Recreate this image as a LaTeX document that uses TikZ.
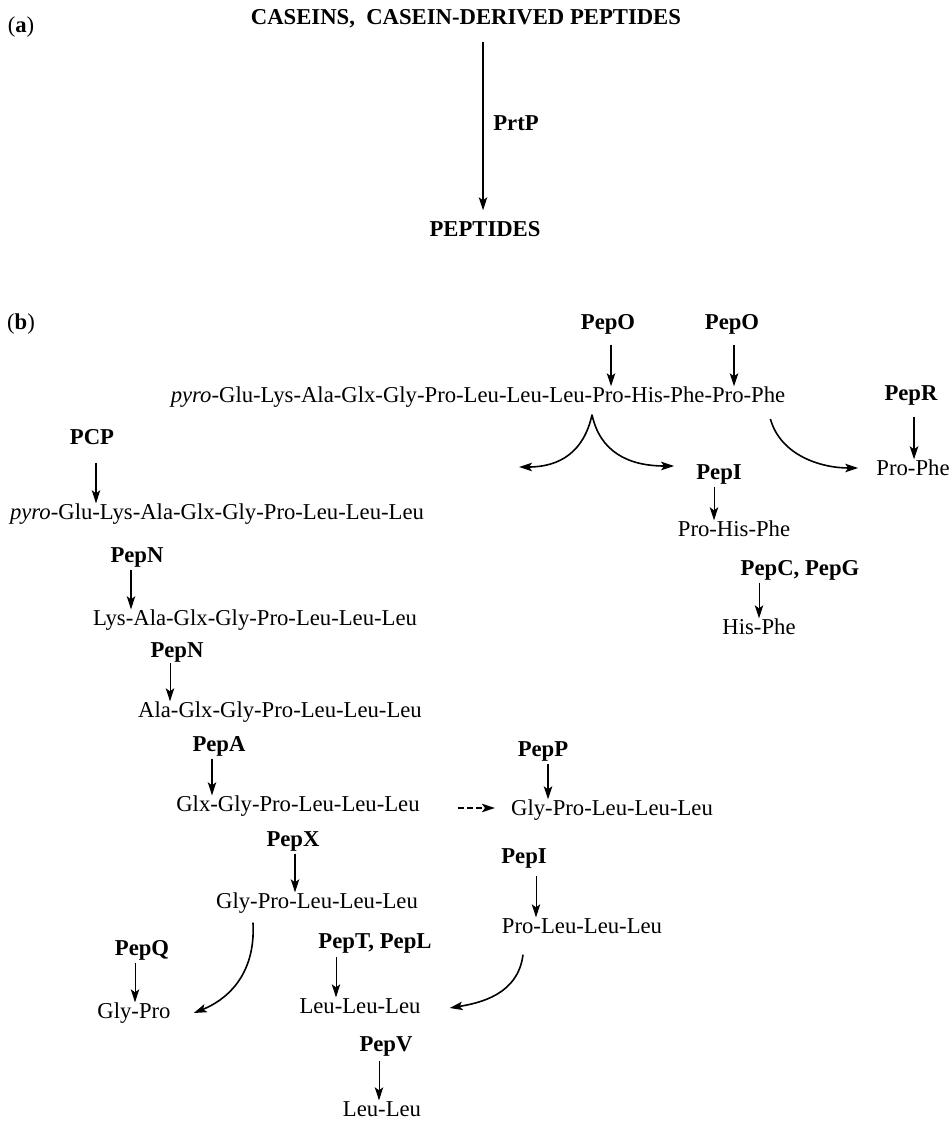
\documentclass[tikz,border=0pt]{standalone}
\usepackage{fontspec}
\setmainfont{Liberation Serif}
\usetikzlibrary{arrows.meta, positioning}

\begin{document}
\begin{tikzpicture}[
    x=1pt, y=-1pt,
    every node/.style={
      font=\fontsize{22.7}{26}\selectfont,
      inner sep=1pt,
      text height=15pt,
      text depth=0pt
    },
    enz/.style={
      font=\fontsize{22.7}{26}\selectfont\bfseries
    },
    cut/.style={
      -{Stealth[length=13pt, width=8.5pt, inset=3pt]},
      line width=1.6pt,
      shorten <=6pt
    },
    thincut/.style={
      cut,
      line width=1pt
    }
]
  \useasboundingbox (0,0) rectangle (951,1121);

  % (a) proteolysis of caseins
  \node (tagA) at (21,25) {(\textbf{a})};
  \node[enz] (casein)   at (466,17)  {CASEINS,~~CASEIN-DERIVED PEPTIDES};
  \node[enz] (peptides) at (485,229) {PEPTIDES};
  \node[enz] (prtp)     at (516,123) {PrtP};

  \draw[cut, shorten <=16pt, shorten >=10pt]
    ([xshift=-2]peptides.north |- casein.south) -- ([xshift=-2]peptides.north);

  % (b) peptide and its breakdown products
  \node (tagB) at (21,322) {(\textbf{b})};

  \node (pyroA) at (478,395)
    {\textit{pyro}-Glu-Lys-Ala-Glx-Gly-Pro-Leu-Leu-Leu-Pro-His-Phe-Pro-Phe};
  \node (pyroB)  at (217,512) {\textit{pyro}-Glu-Lys-Ala-Glx-Gly-Pro-Leu-Leu-Leu};
  \node (lys)    at (255,618) {Lys-Ala-Glx-Gly-Pro-Leu-Leu-Leu};
  \node (ala)    at (280,710) {Ala-Glx-Gly-Pro-Leu-Leu-Leu};
  \node (glx)    at (298,804) {Glx-Gly-Pro-Leu-Leu-Leu};
  \node (glyL)   at (317,901) {Gly-Pro-Leu-Leu-Leu};
  \node (glyR)   at (612,808) {Gly-Pro-Leu-Leu-Leu};
  \node (proleu) at (582,926) {Pro-Leu-Leu-Leu};
  \node (glypro) at (134,1011) {Gly-Pro};
  \node (leu3)   at (360,1006) {Leu-Leu-Leu};
  \node (leu2)   at (382,1109) {Leu-Leu};
  \node (prophe) at (913,468) {Pro-Phe};
  \node (prohis) at (734,529) {Pro-His-Phe};
  \node (hisphe) at (759,627) {His-Phe};

  % enzymes
  \node[enz] (pepOa) at (608,322) {PepO};
  \node[enz] (pepOb) at (732,322) {PepO};
  \node[enz] (pepR)  at (911,393) {PepR};
  \node[enz] (pepIa) at (719,472) {PepI};
  \node[enz] (pepCG) at (800,568) {PepC, PepG};
  \node[enz] (pcp)   at (92,437)  {PCP};
  \node[enz] (pepNa) at (137,555) {PepN};
  \node[enz] (pepNb) at (177,650) {PepN};
  \node[enz] (pepA)  at (219,744) {PepA};
  \node[enz] (pepP)  at (543,749) {PepP};
  \node[enz] (pepX)  at (293,839) {PepX};
  \node[enz] (pepIb) at (524,856) {PepI};
  \node[enz] (pepQ)  at (142,948) {PepQ};
  \node[enz] (pepTL) at (375,941) {PepT, PepL};
  \node[enz] (pepV)  at (386,1044) {PepV};

  % cleavage arrows
  \draw[cut, shorten <=14pt] ([xshift=3]pepOa.south) -- ([xshift=3]pepOa.south |- pyroA.north);
  \draw[cut, shorten <=14pt] ([xshift=2]pepOb.south) -- ([xshift=2]pepOb.south |- pyroA.north);
  \draw[cut, shorten <=15pt] ([xshift=3]pepR.south)  -- ([xshift=3]pepR.south |- prophe.north);
  \draw[thincut] ([xshift=-5]pepIa.south) -- ([xshift=-5]pepIa.south |- prohis.north);
  \draw[thincut] ([xshift=-41]pepCG.south) -- ([xshift=-41]pepCG.south |- hisphe.north);
  \draw[cut, shorten <=17pt] ([xshift=4]pcp.south) -- ([xshift=4]pcp.south |- pyroB.north);
  \draw[cut] ([xshift=-6]pepNa.south) -- ([xshift=-6]pepNa.south |- lys.north);
  \draw[thincut, shorten <=4pt] ([xshift=-7]pepNb.south) -- ([xshift=-7]pepNb.south |- ala.north);
  \draw[cut] ([xshift=-7]pepA.south) -- ([xshift=-7]pepA.south |- glx.north);
  \draw[cut] ([xshift=5]pepP.south) -- ([xshift=5]pepP.south |- glyR.north);
  \draw[cut] ([xshift=2]pepX.south) -- ([xshift=2]pepX.south |- glyL.north);
  \draw[thincut, shorten <=11pt] ([xshift=12]pepIb.south) -- ([xshift=12]pepIb.south |- proleu.north);
  \draw[thincut] ([xshift=-7]pepQ.south) -- ([xshift=-7]pepQ.south |- glypro.north);
  \draw[thincut, shorten <=7pt] ([xshift=-39]pepTL.south) -- ([xshift=-39]pepTL.south |- leu3.north);
  \draw[thincut, shorten <=8pt] ([xshift=-7]pepV.south) -- ([xshift=-7]pepV.south |- leu2.north);

  % product arrows
  \coordinate (split) at ([xshift=114, yshift=-11]pyroA.south);
  \coordinate (lend)  at (519,467);
  \draw[cut, shorten <=0pt] (split) .. controls +(-8,37) and +(41,0) .. (lend);
  \draw[cut, shorten <=0pt] (split) .. controls +(8,37) and +(-46,0)
    .. ([xshift=-21, yshift=6]pepIa.west);
  \draw[cut, shorten <=0pt] ([xshift=-16, yshift=-24]pyroA.east)
    .. controls +(10,36) and +(-38,0) .. ([xshift=-17]prophe.west);
  \draw[cut, dash pattern=on 6pt off 3pt, shorten <=37pt, shorten >=15pt]
    ([yshift=-4]glx.east) -- (glyR.west);
  \draw[cut, shorten <=0pt] ([xshift=-64, yshift=-13]glyL.south)
    .. controls +(3,55) and +(30,-12) .. ([xshift=22, yshift=-2]glypro.east);
  \draw[cut, shorten <=0pt] ([xshift=-59, yshift=-20]proleu.south)
    .. controls +(-5,40) and +(30,-5) .. ([xshift=28, yshift=-2]leu3.east);
\end{tikzpicture}
\end{document}
